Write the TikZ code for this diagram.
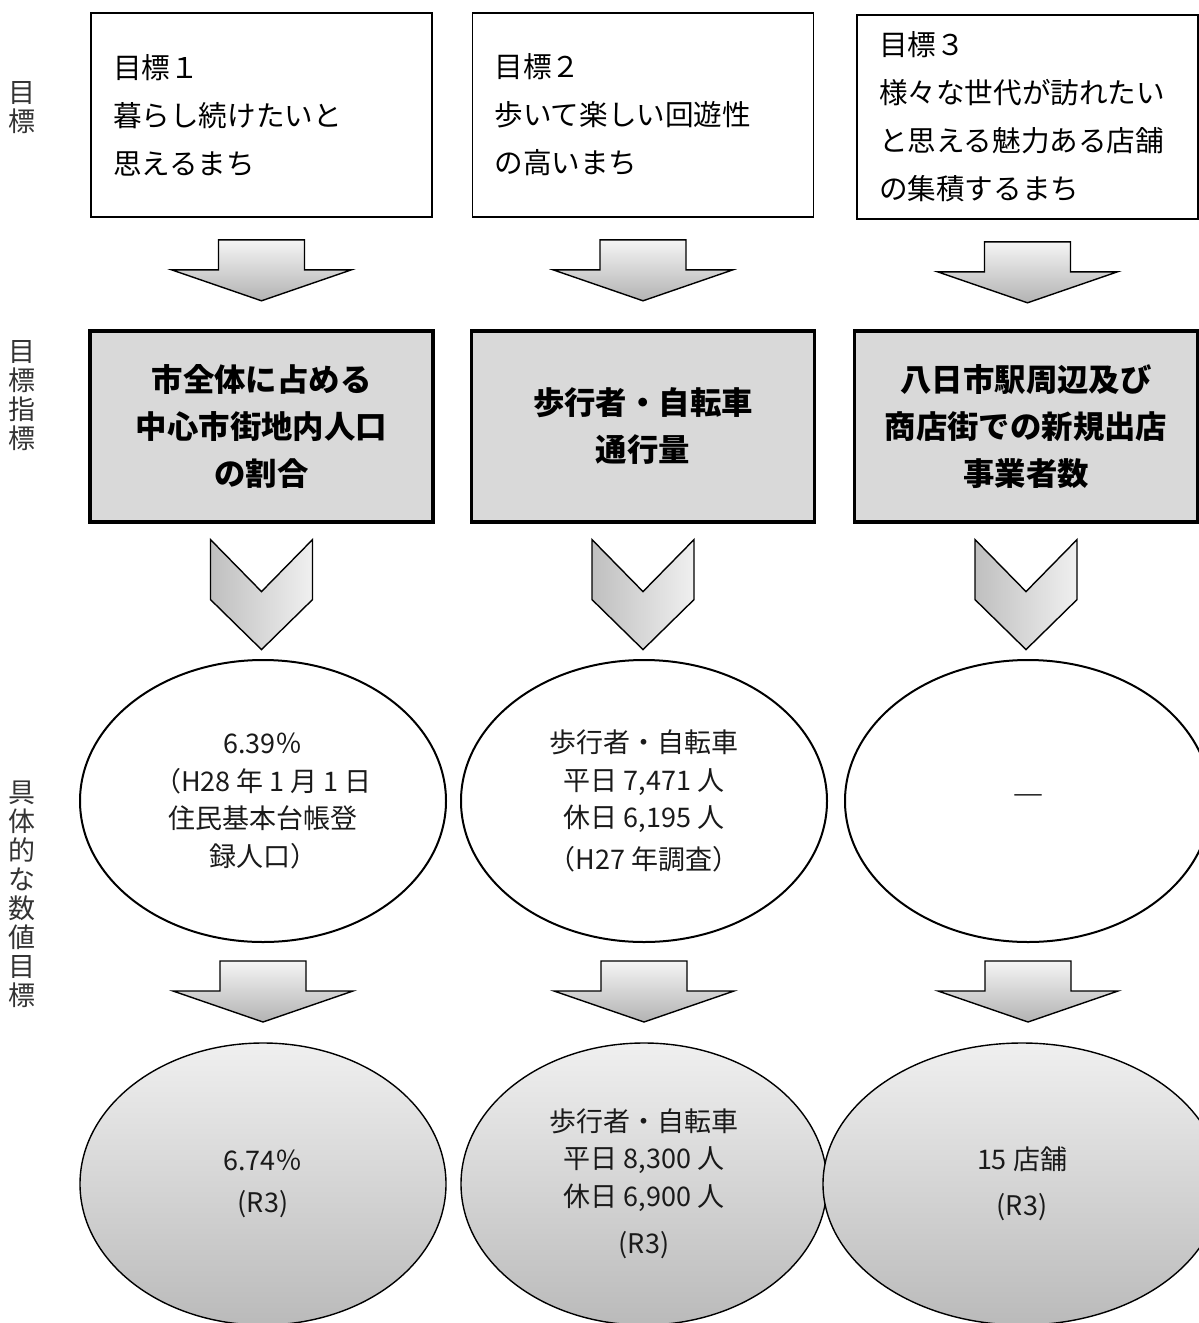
\documentclass[tikz,border=0pt]{standalone}
\usepackage{fontspec}
\setmainfont{Noto Sans CJK JP}
\usetikzlibrary{shapes.geometric,calc,positioning}
\definecolor{boxgray}{HTML}{D9D9D9}
\definecolor{ink}{HTML}{1A1A1A}
\definecolor{lblgray}{HTML}{333333}
\tikzset{
  downarr/.pic={\draw[line width=0.7pt,top color=black!4,bottom color=black!30]
    (-43,0) -- (43,0) -- (43,30) -- (90,30) -- (0,61) -- (-90,30) -- (-43,30) -- cycle;},
  chev/.pic={\draw[line width=0.7pt,left color=black!25,right color=black!6]
    (-51,0) -- (0,52) -- (51,0) -- (51,60) -- (0,110) -- (-51,60) -- cycle;}
}

\begin{document}
\begin{tikzpicture}[x=0.5pt,y=-0.5pt,
  goal/.style={draw,line width=0.8pt,minimum width=170.5pt,minimum height=102pt,text width=148.5pt,inner xsep=11pt,align=left,font=\fontsize{14.3}{24}\selectfont},
  ind/.style={draw,line width=1.6pt,fill=boxgray,minimum width=171.5pt,minimum height=95.5pt,align=center,font=\fontsize{15.7}{23.5}\selectfont\bfseries},
  now/.style={ellipse,draw,line width=1pt,minimum width=183pt,minimum height=141pt,inner sep=0pt,align=center,text=ink,font=\fontsize{13.5}{18.75}\selectfont},
  tgt/.style={now,line width=0.7pt,top color=black!6,bottom color=black!27},
  side/.style={align=center,text=lblgray,font=\fontsize{13.5}{14.5}\selectfont}]
  \useasboundingbox (0,0) rectangle (1199,1323);
  % row labels
  \node[side] (lbgoal) at (22,108) {目\\標};
  \node[side] (lbind) at (22,396) {目\\標\\指\\標};
  \node[side] (lbnum) at (22,894) {具\\体\\的\\な\\数\\値\\目\\標};
  % goals
  \node[goal] (goal1) at (261.5,115) {目標１\\暮らし続けたいと\\思えるまち};
  \node[goal] (goal2) at (643,115) {目標２\\歩いて楽しい回遊性\\の高いまち};
  \node[goal] (goal3) at (1027.5,117) {目標３\\様々な世代が訪れたい\\と思える魅力ある店舗\\の集積するまち};
  \pic at ($(goal1.south)+(0,22)$) {downarr};
  \pic at ($(goal2.south)+(0,22)$) {downarr};
  \pic at ($(goal3.south)+(0,22)$) {downarr};
  % indicators
  \node[ind] (ind1) at (261.5,426.5) {市全体に占める\\中心市街地内人口\\の割合};
  \node[ind] (ind2) at (643,426.5) {歩行者・自転車\\通行量};
  \node[ind] (ind3) at (1026,426.5) {八日市駅周辺及び\\商店街での新規出店\\事業者数};
  \pic at ($(ind1.south)+(0,16)$) {chev};
  \pic at ($(ind2.south)+(0,16)$) {chev};
  \pic at ($(ind3.south)+(0,16)$) {chev};
  % current values
  \node[now] (now1) at (263,801) {6.39％\\（H28 年 1 月 1 日\\住民基本台帳登\\録人口）};
  \node[now] (now2) at (644,801) {歩行者・自転車\\平日 7,471 人\\休日 6,195 人\\[2pt]（H27 年調査）};
  \node[now,text=black,font=\fontsize{16}{18.75}\selectfont] (now3) at (1028,801) {―};
  \pic at ($(now1.south)+(0,18)$) {downarr};
  \pic at ($(now2.south)+(0,18)$) {downarr};
  \pic at ($(now3.south)+(0,18)$) {downarr};
  % targets
  \node[tgt] (tgt1) at (263,1184) {6.74％\\[2pt](R3)};
  \node[tgt] (tgt2) at (644,1184) {歩行者・自転車\\平日 8,300 人\\休日 6,900 人\\[5pt](R3)};
  \node[tgt,minimum width=199pt] (tgt3) at (1022,1184) {15 店舗\\[4pt](R3)};
\end{tikzpicture}
\end{document}
